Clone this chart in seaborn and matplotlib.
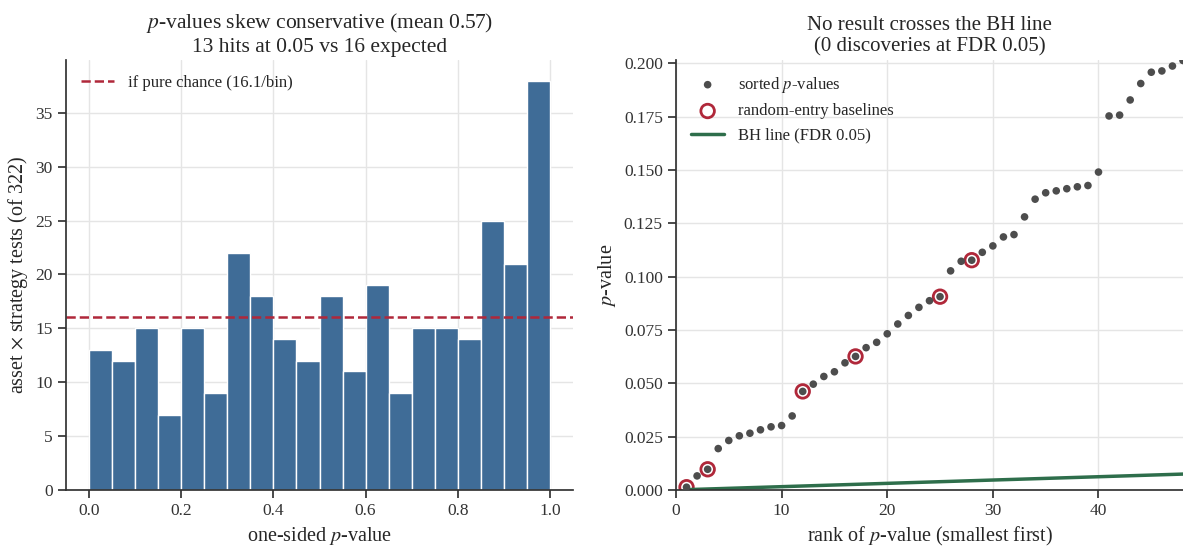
"""Two-panel look at the p-value distribution and the BH threshold."""

import matplotlib
matplotlib.use("Agg")
import matplotlib.pyplot as plt
import numpy as np
import pandas as pd
import seaborn as sns

# histogram of one-sided p-values (20 bins of 0.05)
bin_edges = [0.0, 0.05, 0.10, 0.15, 0.20, 0.25, 0.30, 0.35, 0.40, 0.45, 0.50,
             0.55, 0.60, 0.65, 0.70, 0.75, 0.80, 0.85, 0.90, 0.95, 1.0]
bin_counts = [13, 12, 15, 7, 15, 9, 22, 18, 14, 12,
              18, 11, 19, 9, 15, 15, 14, 25, 21, 38]
n_tests = 322
expected_per_bin = 16.1

# smallest sorted p-values (rank 1..48)
sorted_p = [0.0013, 0.0066, 0.0097, 0.0194, 0.0232, 0.0254, 0.0266, 0.0282,
            0.0296, 0.0302, 0.0347, 0.0462, 0.0496, 0.0532, 0.0554, 0.0596,
            0.0626, 0.0667, 0.0692, 0.0732, 0.0778, 0.0818, 0.0856, 0.0887,
            0.0906, 0.1027, 0.1072, 0.1077, 0.1114, 0.1144, 0.1186, 0.1197,
            0.1280, 0.1363, 0.1393, 0.1402, 0.1412, 0.1421, 0.1427, 0.1490,
            0.1753, 0.1757, 0.1828, 0.1905, 0.1958, 0.1964, 0.1987, 0.2013]
baseline_ranks = [1, 3, 12, 17, 25, 28]
fdr = 0.05

BAR = "#3f6c97"
RED = "#b0283a"
DOT = "#4d4d4d"
GREEN = "#2e6e4b"

sns.set_theme(style="ticks")
plt.rcParams["font.family"] = ["Liberation Serif", "DejaVu Serif"]
plt.rcParams["mathtext.fontset"] = "stix"
plt.rcParams["axes.edgecolor"] = "#333333"
plt.rcParams["xtick.color"] = "#333333"
plt.rcParams["ytick.color"] = "#333333"

fig = plt.figure(figsize=(11.83, 5.46), dpi=100)
ax1 = fig.add_axes([0.0558, 0.1026, 0.4286, 0.7874])
ax2 = fig.add_axes([0.5714, 0.1026, 0.4286, 0.7874])

# ---- left: histogram
centers = [(a + b) / 2 for a, b in zip(bin_edges[:-1], bin_edges[1:])]
hist_df = pd.DataFrame({"p": centers, "n": bin_counts})
sns.histplot(data=hist_df, x="p", weights="n", bins=bin_edges, ax=ax1,
             color=BAR, alpha=1, edgecolor="white", linewidth=1)
ax1.axhline(expected_per_bin, color=RED, ls="--", lw=1.8,
            label=f"if pure chance ({expected_per_bin}/bin)")
ax1.set_xlabel("one-sided $p$-value", fontsize=14.5)
ax1.set_ylabel("asset $\\times$ strategy tests (of 322)", fontsize=14.5)
ax1.set_title("$p$-values skew conservative (mean 0.57)\n13 hits at 0.05 vs 16 expected",
              fontsize=15.5)
ax1.legend(loc="upper left", frameon=False, fontsize=12)
ax1.grid(True, color="#e5e5e5", lw=1)
ax1.set_axisbelow(True)

# ---- right: sorted p-values vs BH line
ranks = np.arange(1, len(sorted_p) + 1)
pv = pd.DataFrame({"rank": ranks, "p": sorted_p})
base = pv[pv["rank"].isin(baseline_ranks)]
bh = pd.DataFrame({"rank": ranks, "thr": fdr * ranks / n_tests})

sns.scatterplot(data=pv, x="rank", y="p", ax=ax2, color=DOT, s=30,
                edgecolor="none", label="sorted $p$-values", zorder=3)
sns.scatterplot(data=base, x="rank", y="p", ax=ax2, s=95, facecolor="none",
                edgecolor=RED, linewidth=2, label="random-entry baselines", zorder=2)
sns.lineplot(data=bh, x="rank", y="thr", ax=ax2, color=GREEN, lw=2.5,
             label=f"BH line (FDR {fdr})", zorder=2)
ax2.set_xlim(0, 48)
ax2.set_ylim(0, 0.2015)
ax2.set_yticks(np.arange(0, 0.2001, 0.025))
ax2.yaxis.set_major_formatter(matplotlib.ticker.FormatStrFormatter("%.3f"))
ax2.set_xlabel("rank of $p$-value (smallest first)", fontsize=14.5)
ax2.set_ylabel("$p$-value", fontsize=14.5)
ax2.set_title("No result crosses the BH line\n(0 discoveries at FDR 0.05)", fontsize=15)
ax2.legend(loc="upper left", frameon=False, fontsize=12)
ax2.grid(True, color="#e5e5e5", lw=1)
ax2.set_axisbelow(True)

for ax in (ax1, ax2):
    sns.despine(ax=ax)
    ax.tick_params(labelsize=12.5)

fig.savefig("out.png", dpi=100)
